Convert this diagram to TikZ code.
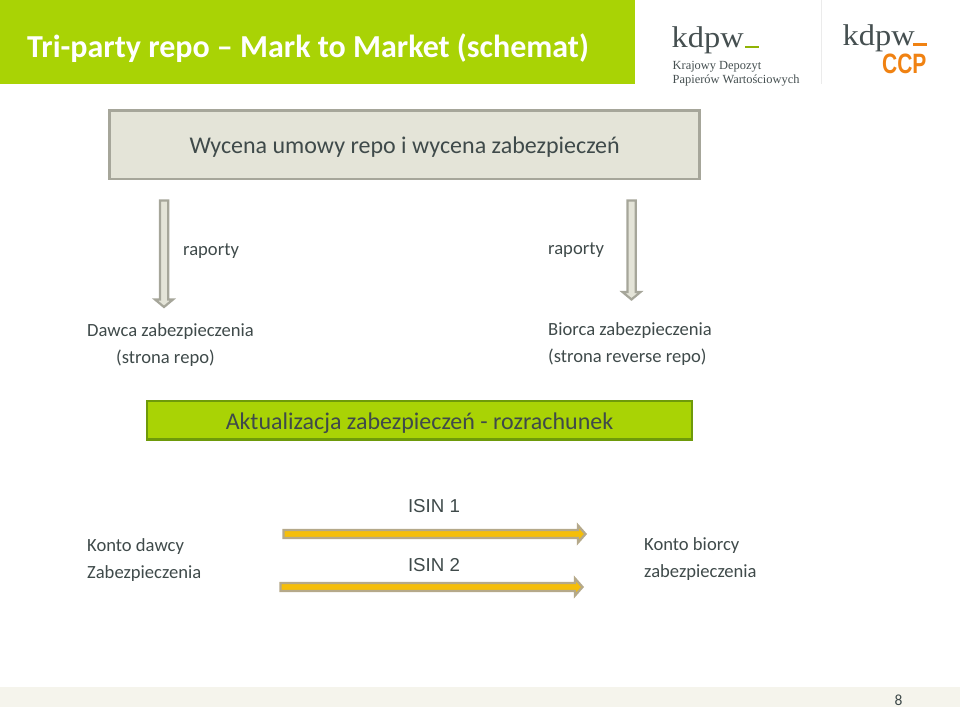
\documentclass[tikz,border=0pt]{standalone}
\usepackage{fontspec}
\setmainfont{Carlito}
\newfontfamily\logofont{Liberation Serif}
\newfontfamily\arialfont{Liberation Sans}
\definecolor{lime}{HTML}{A9D305}
\definecolor{txt}{HTML}{3F4A4A}
\definecolor{boxfill}{HTML}{E4E4D8}
\definecolor{boxline}{HTML}{A6A69A}
\definecolor{limeline}{HTML}{6E9A0A}
\definecolor{goldfill}{HTML}{F5BE0A}
\definecolor{goldline}{HTML}{B5A98A}
\definecolor{logotxt}{HTML}{454F50}
\definecolor{ccp}{HTML}{F08212}
\definecolor{band}{HTML}{F5F4EC}
\tikzset{
  lbl/.style={font=\fontsize{18.6}{27.3}\selectfont,text=txt,align=left,inner sep=0pt},
  isin/.style={font=\fontsize{18.7}{22}\selectfont\arialfont,text=txt,inner sep=0pt},
  downarrow/.style={draw=boxline,fill=boxfill,line width=2.2pt,miter limit=10},
  rightarrow/.style={draw=goldline,fill=goldfill,line width=2.3pt},
  logosub/.style={anchor=base west,inner sep=0pt,text=logotxt,font=\fontsize{12.4}{14}\logofont},
  logomain/.style={anchor=base west,inner sep=0pt,text=logotxt,xscale=1.08,font=\fontsize{30}{30}\logofont},
}
\begin{document}
\begin{tikzpicture}[x=1pt,y=-1pt]
\useasboundingbox (0,0) rectangle (960,707);
% header
\fill[lime] (0,0) rectangle (635,83.5);
\node[anchor=west,inner sep=0pt,text=white,font=\fontsize{32}{38}\selectfont\bfseries] (title) at (27,48.5) {Tri-party repo – Mark to Market (schemat)};
% logos
\draw[draw=black!8,line width=0.7pt] (821,0) -- (821,84);
\node[logomain] (logoa) at (671.5,47.5) {kdpw};
\fill[lime!85!black] (745,45.7) rectangle (759,47.7);
\node[logosub] (logob) at (672.5,69.5) {Krajowy Depozyt};
\node[logosub] (logoc) at (672.5,83) {Papierów Wartościowych};
\node[logomain] (logod) at (842.5,45.5) {kdpw};
\fill[ccp] (913,43.3) rectangle (927,45.5);
\node[anchor=base west,inner sep=0pt,text=ccp,xscale=0.75,font=\fontsize{28}{28}\arialfont\bfseries] (logoe) at (882,73) {CCP};
% top box
\node[draw=boxline,fill=boxfill,line width=2.6pt,minimum width=590pt,minimum height=68.5pt,inner sep=0pt,anchor=north west] (wycena) at (108.3,109.3) {};
\node[lbl,font=\fontsize{24}{28}\selectfont,anchor=west] (wycenatxt) at (189.5,147) {Wycena umowy repo i wycena zabezpieczeń};
% down arrows
\draw[downarrow] (160,200.5) -- (168.2,200.5) -- (168.2,299.5) -- (173,299.5) -- (164,307) -- (155,299.5) -- (160,299.5) -- cycle;
\draw[downarrow] (627.5,200.5) -- (635.7,200.5) -- (635.7,292) -- (640.5,292) -- (631.5,299.5) -- (622.5,292) -- (627.5,292) -- cycle;
\node[lbl,anchor=west] (r1) at (183,251.5) {raporty};
\node[lbl,anchor=west] (r2) at (548,250.5) {raporty};
\node[lbl,anchor=north west] (dawca) at (87,323) {Dawca zabezpieczenia\\\hspace*{29pt}(strona repo)};
\node[lbl,anchor=north west] (biorca) at (548,322) {Biorca zabezpieczenia\\(strona reverse repo)};
% green box
\node[draw=limeline,fill=lime,line width=2.2pt,minimum width=545pt,minimum height=38.3pt,inner sep=0pt,anchor=north west] (akt) at (145.8,400) {};
\node[lbl,font=\fontsize{24}{28}\selectfont,anchor=center] (akttxt) at (419.5,423) {Aktualizacja zabezpieczeń - rozrachunek};
% isin
\node[isin] (i1) at (434,506) {ISIN 1};
\node[isin] (i2) at (434,565) {ISIN 2};
\draw[rightarrow] (283.5,530) -- (578,530) -- (578,525.5) -- (585.5,534) -- (578,542.5) -- (578,538) -- (283.5,538) -- cycle;
\draw[rightarrow] (280.5,583) -- (575,583) -- (575,578.5) -- (582.5,587) -- (575,595.5) -- (575,591) -- (280.5,591) -- cycle;
\node[lbl,anchor=north west] (kd) at (87,538.5) {Konto dawcy\\Zabezpieczenia};
\node[lbl,anchor=north west] (kb) at (644,537) {Konto biorcy\\zabezpieczenia};
% footer
\fill[band] (0,686.5) rectangle (960,707);
\node[inner sep=0pt,text=txt,font=\fontsize{15.5}{18}\selectfont] (pg) at (898.5,700.3) {8};
\end{tikzpicture}
\end{document}
